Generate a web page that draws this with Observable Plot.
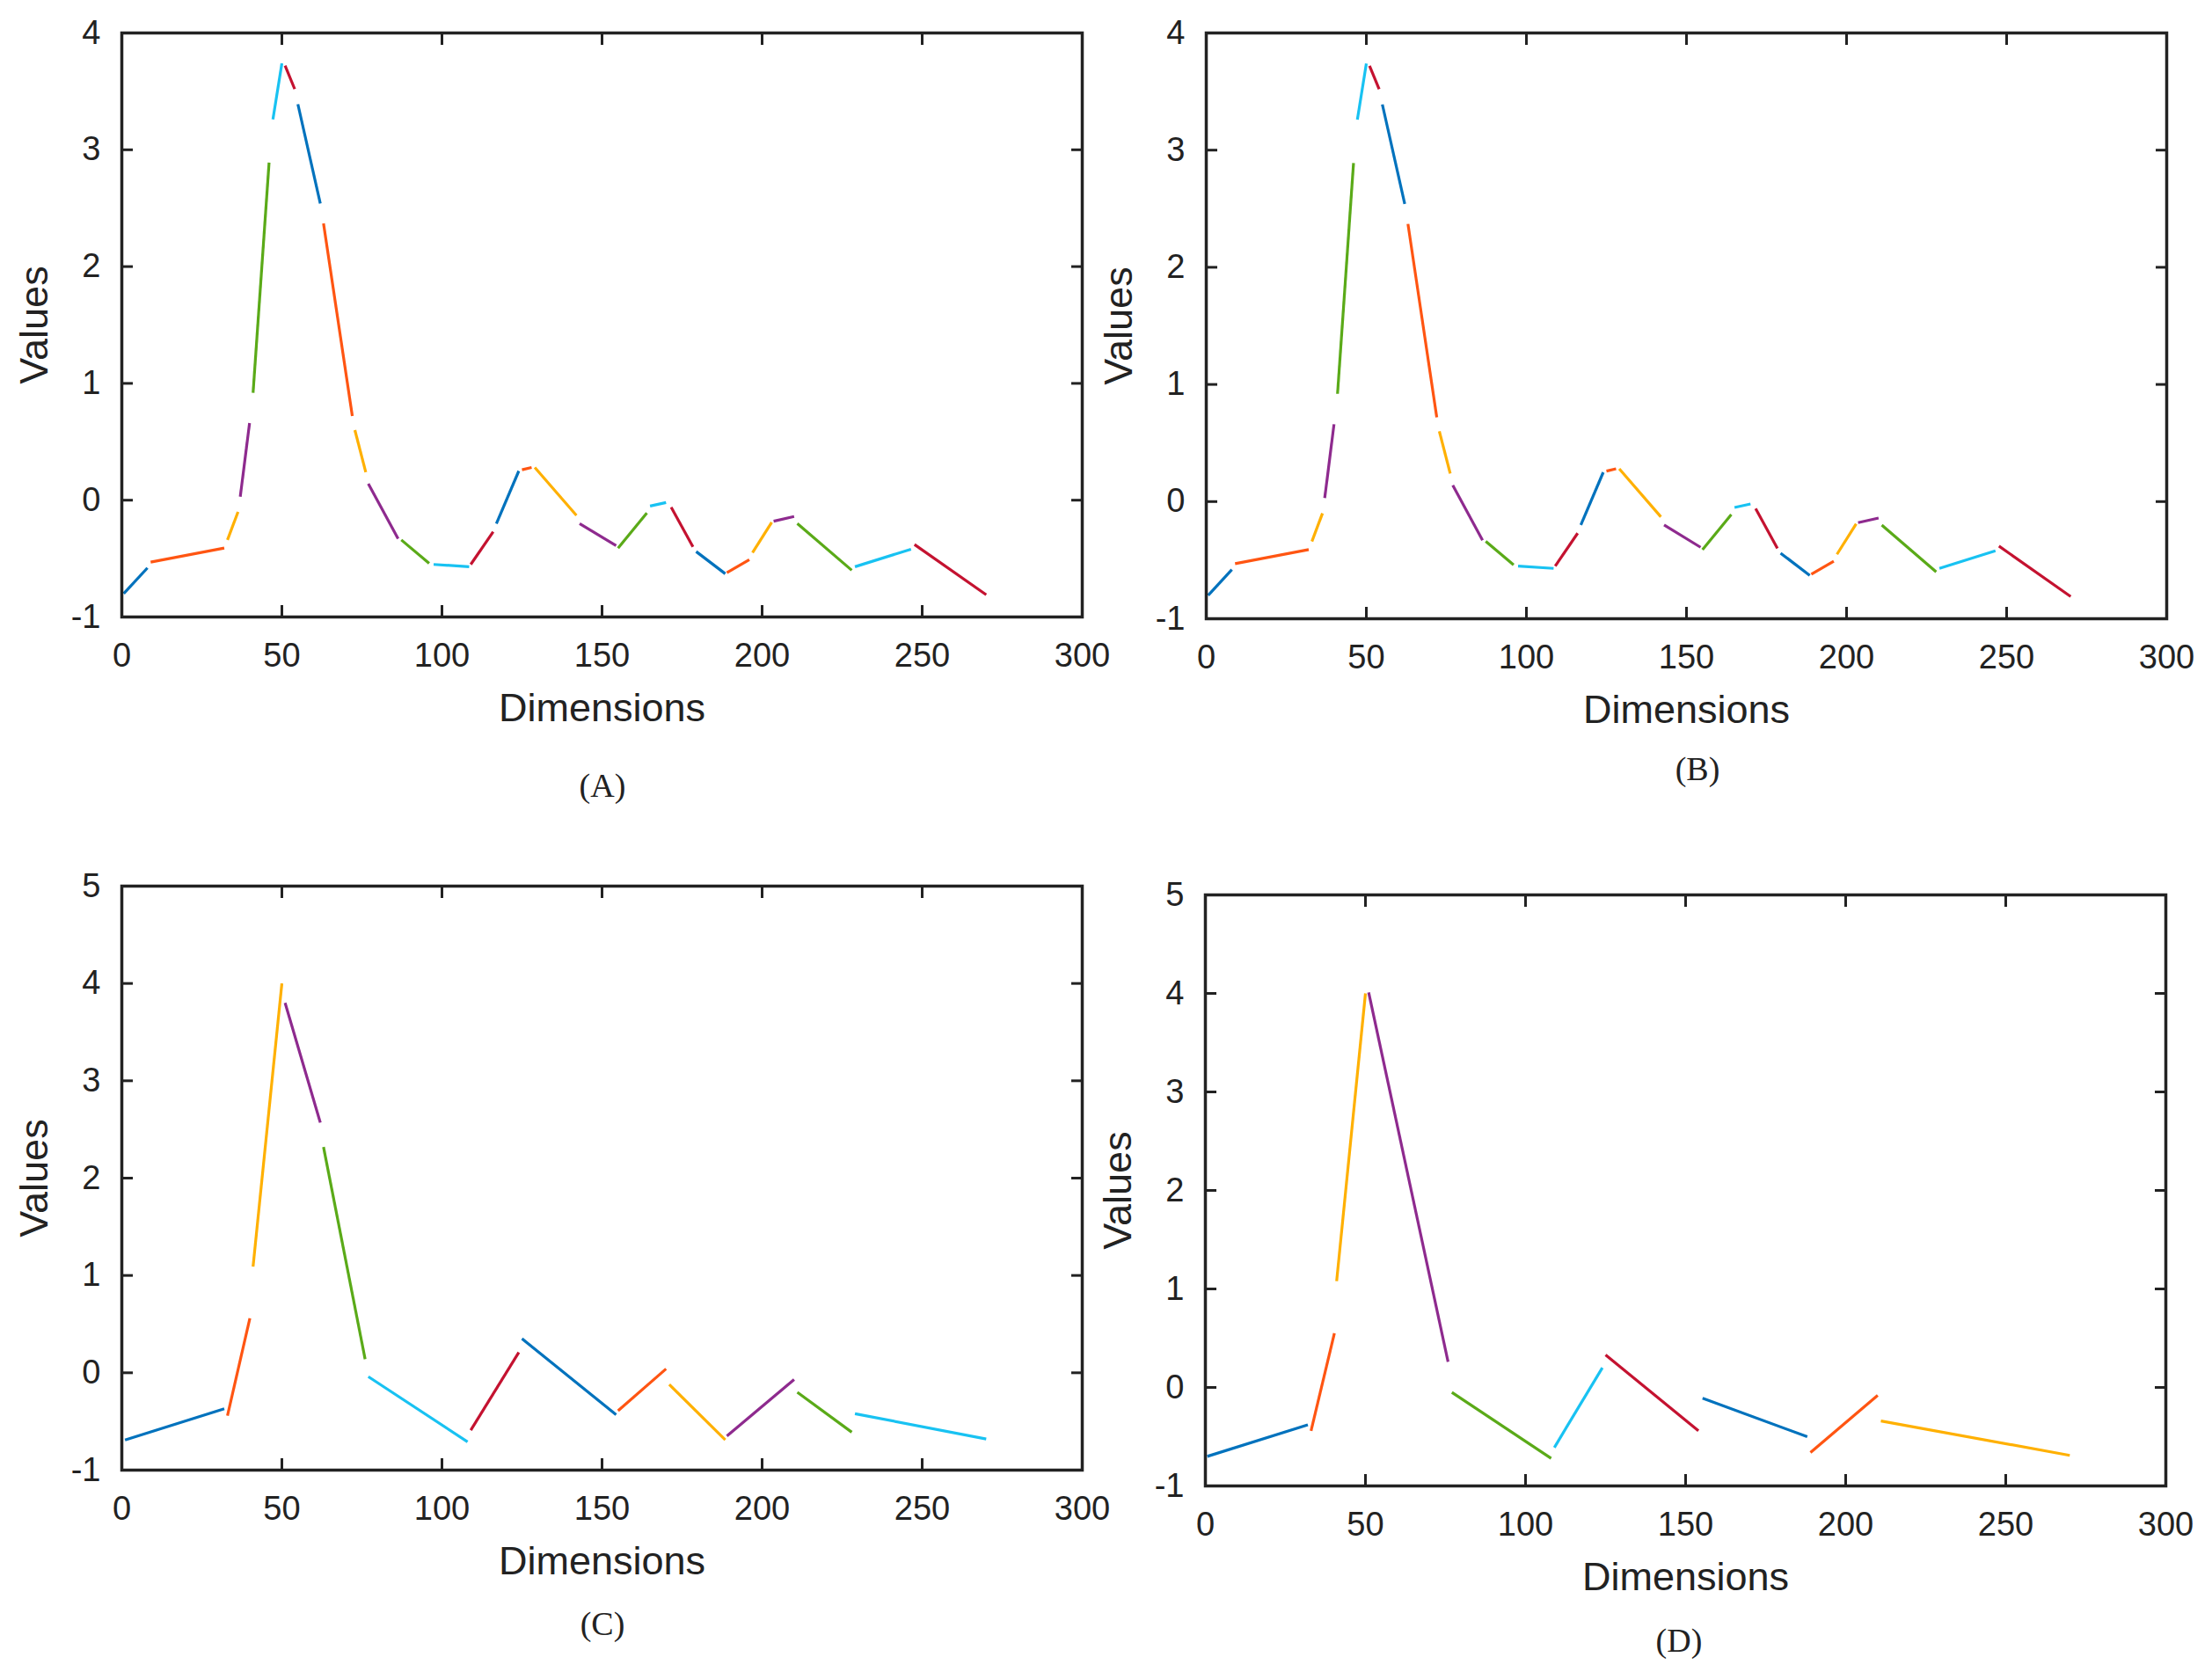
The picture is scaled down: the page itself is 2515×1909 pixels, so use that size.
<!DOCTYPE html>
<html><head><meta charset="utf-8">
<script src="https://cdn.jsdelivr.net/npm/d3@7"></script>
<script src="https://cdn.jsdelivr.net/npm/@observablehq/plot@0.6"></script>
<style>
body{margin:0;background:#fff;overflow:hidden}
#root{position:relative;width:2515px;height:1909px;background:#fff}
.p{position:absolute}
.p svg{max-width:none !important}
.cap{position:absolute;font-family:"Liberation Serif","DejaVu Serif",serif;font-size:38px;color:#222;transform:translate(-50%,-50%)}
</style></head><body><div id="root"></div>
<script>
const palette = ["#0072BD","#FF5512","#FFB000","#8E2A8E","#5AAA18","#18C2F2","#C41230"];
const xTicks = [0,50,100,150,200,250,300];
const yTicksAB = [-1,0,1,2,3,4];
const yTicksCD = [-1,0,1,2,3,4,5];
// segments: [x1,y1,x2,y2]
const segA = [
 [0.6,-0.8,8,-0.58],[9,-0.53,32,-0.41],[33,-0.34,36.3,-0.1],[37,0.03,39.9,0.66],
 [41,0.92,46,2.89],[47.2,3.26,50,3.74],[51,3.72,54,3.52],[55,3.39,62,2.54],
 [63,2.37,72,0.72],[72.8,0.6,76.2,0.24],[77,0.14,86.3,-0.33],[87.3,-0.34,96,-0.54],
 [97.4,-0.55,108.5,-0.57],[109,-0.55,116,-0.27],[117,-0.2,124,0.25],[125,0.26,128,0.28],
 [129,0.28,142,-0.13],[143,-0.2,154.4,-0.39],[155,-0.41,164,-0.11],[165,-0.05,170,-0.02],
 [171.6,-0.06,178.4,-0.4],[179.4,-0.44,188.5,-0.63],[189,-0.62,196,-0.51],[197,-0.45,203,-0.19],
 [203.6,-0.18,210,-0.14],[211,-0.2,228,-0.6],[229,-0.57,246.5,-0.42],[247.6,-0.38,270,-0.81]
];
const segB = segA;
const segC = [
 [1,-0.69,32,-0.37],[33,-0.44,40,0.56],[41,1.09,50,4.0],[51,3.8,62,2.57],
 [63,2.32,76,0.14],[77,-0.04,108,-0.71],[109,-0.59,124,0.21],[125,0.35,154.4,-0.43],
 [155,-0.39,170,0.04],[171,-0.12,188.5,-0.69],[189,-0.65,210,-0.07],[211,-0.2,228,-0.61],
 [229,-0.42,270,-0.68]
];
const segD = [
 [0.6,-0.7,32,-0.38],[33,-0.44,40.3,0.55],[41,1.08,50,4.0],[51,4.01,75.8,0.26],
 [77,-0.05,108,-0.72],[109,-0.61,124,0.2],[125,0.33,154,-0.44],[155.3,-0.11,188,-0.5],
 [189,-0.66,210,-0.08],[211,-0.34,270,-0.69]
];
const panels = [
 {seg:segA, yt:yTicksAB, left:0, top:0, fh:664, cap:"(A)", cx:685, cy:893},
 {seg:segB, yt:yTicksAB, left:1233, top:0, fh:666, cap:"(B)", cx:1930, cy:874},
 {seg:segC, yt:yTicksCD, left:0, top:970, fh:664, cap:"(C)", cx:685, cy:1846},
 {seg:segD, yt:yTicksCD, left:1232, top:980, fh:672, cap:"(D)", cx:1909, cy:1865}
];
const root = document.getElementById("root");
const fmt = d => String(d);
for (const P of panels) {
  const data = P.seg.map((s,i)=>({x1:s[0],y1:s[1],x2:s[2],y2:s[3],c:palette[i%7]}));
  const yd = [P.yt[0], P.yt[P.yt.length-1]];
  const chart = Plot.plot({
    width:1280, height:37+P.fh+130,
    marginLeft:138, marginRight:50, marginTop:37, marginBottom:130,
    style:{fontFamily:"Liberation Sans, Arial, sans-serif", fontSize:"38px", color:"#222", background:"transparent"},
    x:{domain:[0,300]}, y:{domain:yd},
    marks:[
      Plot.link(data,{x1:"x1",y1:"y1",x2:"x2",y2:"y2",stroke:d=>d.c,strokeWidth:3.2}),
      Plot.axisX({anchor:"bottom", ticks:xTicks, tickFormat:fmt, tickSize:-13, tickPadding:43, strokeWidth:3, label:"Dimensions", labelAnchor:"center", labelArrow:"none", labelOffset:118, fontSize:38}),
      Plot.axisX({anchor:"top", ticks:xTicks, tickSize:-13, tickFormat:()=>"", strokeWidth:3, label:null}),
      Plot.axisY({anchor:"left", ticks:P.yt, tickFormat:fmt, tickSize:-13, tickPadding:37, strokeWidth:3, label:"Values", labelAnchor:"center", labelArrow:"none", labelOffset:116, fontSize:38}),
      Plot.axisY({anchor:"right", ticks:P.yt, tickSize:-13, tickFormat:()=>"", strokeWidth:3, label:null}),
      Plot.frame({stroke:"#222", strokeWidth:3.5})
    ]
  });
  chart.querySelectorAll("g[aria-label$='axis label'] text").forEach(t=>t.setAttribute("font-size","45"));
  const d = document.createElement("div"); d.className="p";
  d.style.left=P.left+"px"; d.style.top=P.top+"px";
  d.appendChild(chart); root.appendChild(d);
  const c = document.createElement("div"); c.className="cap"; c.textContent=P.cap;
  c.style.left=P.cx+"px"; c.style.top=P.cy+"px"; root.appendChild(c);
}
</script></body></html>
